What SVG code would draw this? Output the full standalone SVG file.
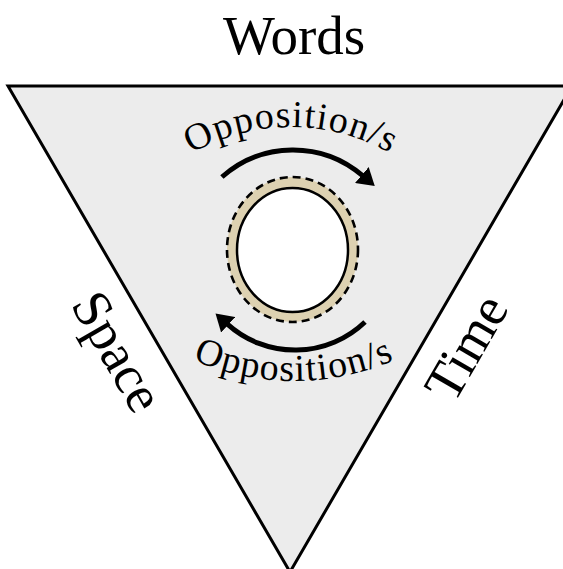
<svg xmlns="http://www.w3.org/2000/svg" width="563" height="569" viewBox="0 0 563 569">
  <style>
    .lbl { font-family: "Liberation Serif", "Times New Roman", serif; fill: #000; }
    .arc { fill: none; stroke: #000; stroke-width: 5; }
  </style>
  <defs>
    <marker id="ah" markerUnits="userSpaceOnUse" viewBox="0 0 17 21" refX="1" refY="10.5" markerWidth="17" markerHeight="21" orient="auto">
      <path d="M0,0 L17,10.5 L0,21 Z" fill="#000"/>
    </marker>
    <path id="topPath" d="M 91,327 A 200 200 0 0 1 491,327"/>
    <path id="botPath" d="M 44,131 A 250 250 0 0 0 544,131"/>
  </defs>
  <rect width="563" height="569" fill="#fff"/>
  <g id="triangle">
    <polygon points="8,86 572,86 290,572" fill="#ececec" stroke="#000" stroke-width="3" stroke-linejoin="miter"/>
  </g>
  <g id="words">
    <text class="lbl" x="294" y="54" font-size="55" text-anchor="middle">Words</text>
  </g>
  <g id="space">
    <text class="lbl" transform="translate(117,352) rotate(60)" x="0" y="17" font-size="54" text-anchor="middle">Space</text>
  </g>
  <g id="time">
    <text class="lbl" transform="translate(467,348) rotate(-60)" x="0" y="17" font-size="54" text-anchor="middle">Time</text>
  </g>
  <g id="ring">
    <ellipse cx="292.5" cy="249.5" rx="65.5" ry="72.5" fill="#ddd1b1" stroke="#000" stroke-width="2.6" stroke-dasharray="8 5"/>
    <ellipse cx="292.5" cy="250" rx="55.5" ry="62" fill="#fff" stroke="#000" stroke-width="2.5"/>
  </g>
  <g id="connectors">
    <path class="arc" d="M 221.9,177 A 107 107 0 0 1 362.6,175.7" marker-end="url(#ah)"/>
    <path class="arc" d="M 365,322 A 101 101 0 0 1 227.4,324.1" marker-end="url(#ah)"/>
  </g>
  <g id="opp-top">
    <text class="lbl" font-size="38" letter-spacing="1.2"><textPath href="#topPath" startOffset="50%" text-anchor="middle">Opposition/s</textPath></text>
  </g>
  <g id="opp-bottom">
    <text class="lbl" font-size="38" letter-spacing="1.2"><textPath href="#botPath" startOffset="50%" text-anchor="middle">Opposition/s</textPath></text>
  </g>
</svg>
